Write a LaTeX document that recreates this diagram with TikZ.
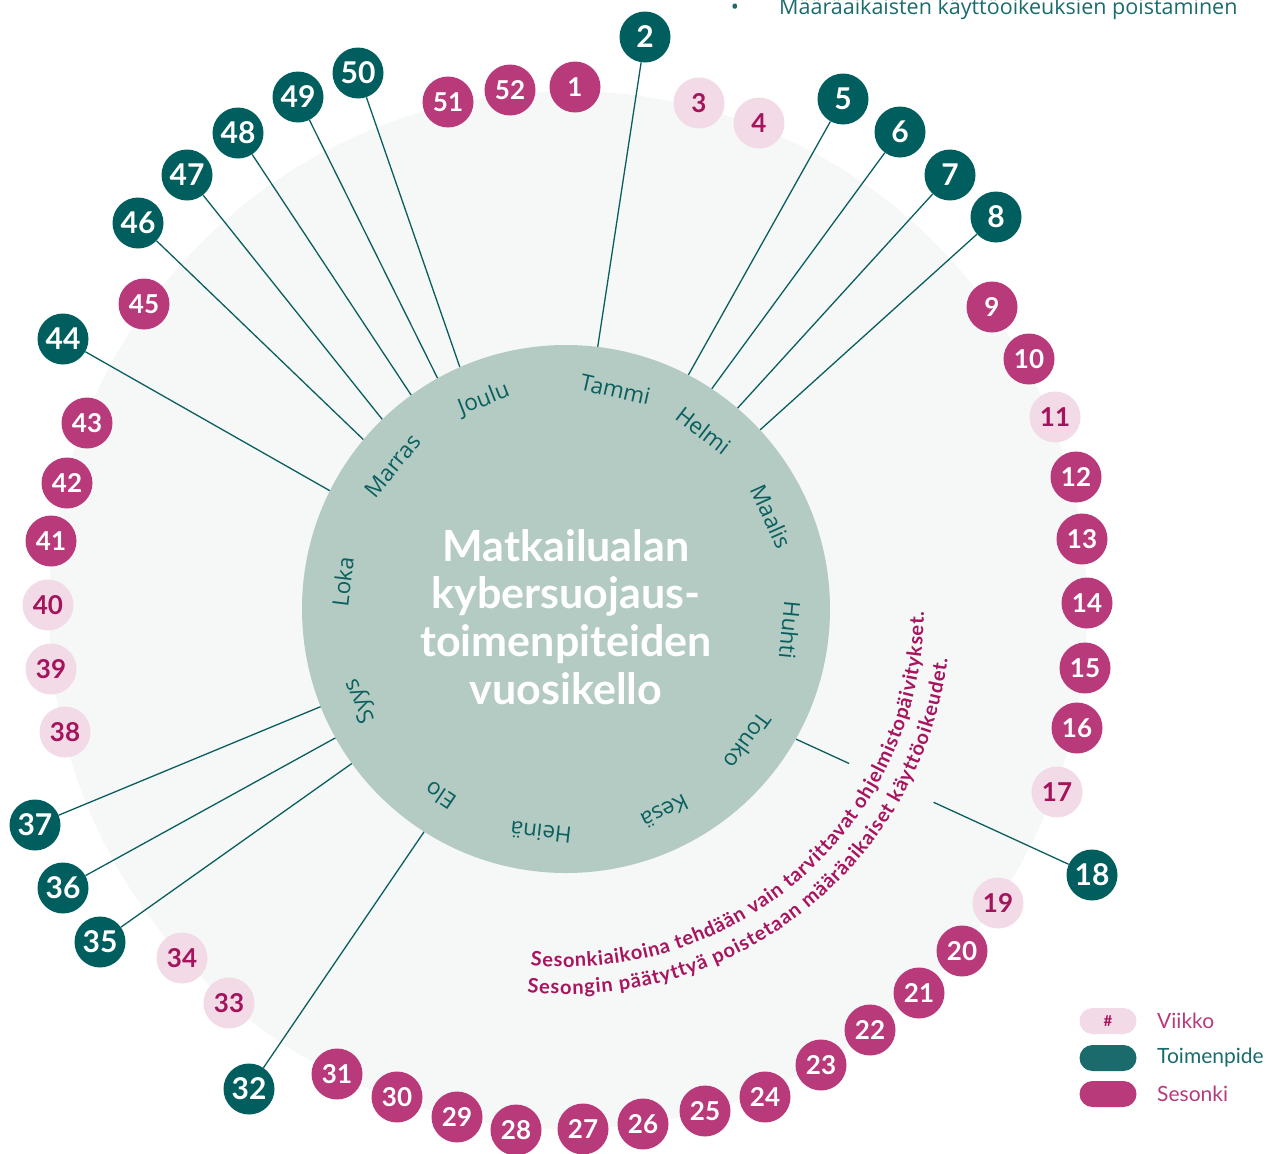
\documentclass[tikz,border=0pt]{standalone}
\usepackage{fontspec}
\setmainfont{Lato}
\newfontfamily\osans{Open Sans}
\usetikzlibrary{decorations.text,calc}
\definecolor{tealB}{HTML}{005E5F}
\definecolor{tealL}{HTML}{1B6B6C}
\definecolor{magB}{HTML}{B83A7A}
\definecolor{paleB}{HTML}{F2DAE6}
\definecolor{paleT}{HTML}{A3145C}
\definecolor{curveT}{HTML}{A8145F}
\definecolor{innerC}{HTML}{B3CBC3}
\definecolor{outerC}{HTML}{F5F8F7}
\definecolor{monthT}{HTML}{0A5F5F}
\definecolor{lineC}{HTML}{0B5E5E}
\newcommand\curvefont{\fontsize{20}{20}\selectfont\bfseries\color{curveT}}
\begin{document}
\begin{tikzpicture}[x=1pt,y=1pt,
  bubble/.style={circle, minimum size=51pt, inner sep=0pt},
  bT/.style={bubble, fill=tealB, text=white, font=\fontsize{30}{30}\selectfont\bfseries},
  bS/.style={bubble, fill=magB, text=white, font=\fontsize{26}{26}\selectfont\bfseries},
  bW/.style={bubble, fill=paleB, text=paleT, font=\fontsize{26}{26}\selectfont\bfseries},
  conn/.style={draw=lineC, line width=1.3pt},
  month/.style={text=monthT, font=\osans\fontsize{22.5}{22.5}\selectfont, inner sep=0pt},
  pill/.style={rounded corners=13pt, minimum width=57pt, minimum height=26pt, inner sep=0pt},
  legtext/.style={anchor=west, font=\fontsize{21}{21}\selectfont, inner sep=0pt}
]
\useasboundingbox (0,-1154) rectangle (1288,0);
\clip (0,-1154) rectangle (1288,0);
\coordinate (C) at (566,-609);
% pale disc
\fill[outerC] (568,-610) circle[radius=519];
% bubbles
\foreach \n/\x/\y in {2/645/37,5/843/99,6/900/132,7/950/175,8/996/217,18/1092/875,32/249/1089,35/100/942,36/63/888,37/35/825,44/63/339,46/138/223,47/187/175,48/238/133,49/298/97,50/358/73}
  \node[bT] (n\n) at (\x,-\y) {\n};
\foreach \n/\x/\y in {1/575/87,9/992/307,10/1029/359,12/1076/477,13/1082/539,14/1087/603,15/1085/668,16/1077/728,20/962/951,21/919/993,22/870/1030,23/821/1065,24/765/1097,25/705/1111,26/643/1124,27/583/1129,28/516/1130,29/457/1117,30/397/1097,31/337/1074,41/51/541,42/67/483,43/87/423,45/144/304,51/448/102,52/510/90}
  \node[bS] (n\n) at (\x,-\y) {\n};
\foreach \n/\x/\y in {3/699/103,4/759/123,11/1055/417,17/1057/792,19/998/903,33/229/1003,34/182/958,38/65/732,39/51/669,40/48/605}
  \node[bW] (n\n) at (\x,-\y) {\n};
% connectors
\foreach \n/\a in {2/83.1,5/62.4,6/56.5,7/49.5,8/42.7,32/237.5,35/215.8,36/209.2,37/201.7,44/153.4,46/140.1,47/134.1,48/125.9,49/119.1,50/113.7}{
  \coordinate (e\n) at ([shift={(\a:264)}]C);
  \draw[conn] (n\n) -- (e\n);
}
\coordinate (e18) at ([shift={(330.5:264)}]C);
\draw[conn] (e18) -- ($(e18)!0.18!(n18)$);
\draw[conn] ($(e18)!0.465!(n18)$) -- (n18);
% inner circle
\fill[innerC] (C) circle[radius=264];
% months
\foreach \m/\a [count=\i] in {Tammi/77.3,Helmi/52.4,Maalis/24.3,Huhti/-5.4,Touko/-36,Kesä/-64,Heinä/-96.4,Elo/-124,Syys/-156,Loka/173,Marras/140.4,Joulu/111.4}
  \node[month, rotate=\a-90] (m\i) at ([shift={(\a:225)}]C) {\m};
% title
\node[text=white, align=center, font=\fontsize{43}{47.8}\selectfont\bfseries, inner sep=0pt] (title) at (566,-617) {Matkailualan\\kybersuojaus-\\toimenpiteiden\\vuosikello};
% curved texts
\path[decorate, decoration={text along path, text align=fit to path, text={|\curvefont|Sesonkiaikoina tehdään vain tarvittavat ohjelmistopäivitykset.}}]
  ([shift={(264.3:358)}]C) arc[start angle=264.3, end angle=359.5, radius=358];
\path[decorate, decoration={text along path, text align=fit to path, text={|\curvefont|Sesongin päätyttyä poistetaan määräaikaiset käyttöoikeudet.}}]
  ([shift={(264.2:385)}]C) arc[start angle=264.2, end angle=352.5, radius=385];
% top note
\node[anchor=base, inner sep=0pt, text=tealL, font=\osans\fontsize{21.5}{21.5}\selectfont] (bullet) at (735,-14) {•};
\node[anchor=base west, inner sep=0pt, text=tealL, font=\osans\fontsize{21.5}{21.5}\selectfont] (topnote) at (779,-14) {Määräaikaisten käyttöoikeuksien poistaminen};
% legend
\node[pill, fill=paleB, text=paleT, font=\fontsize{15}{15}\selectfont\bfseries] (lw) at (1108,-1021) {\#};
\node[pill, fill=tealL] (lt) at (1108,-1058) {};
\node[pill, fill=magB] (ls) at (1108,-1094) {};
\node[legtext, text=magB] (lwt) at (1157,-1021) {Viikko};
\node[legtext, text=tealL] (ltt) at (1157,-1058) {Toimenpide};
\node[legtext, text=magB] (lst) at (1157,-1094) {Sesonki};
\end{tikzpicture}
\end{document}
